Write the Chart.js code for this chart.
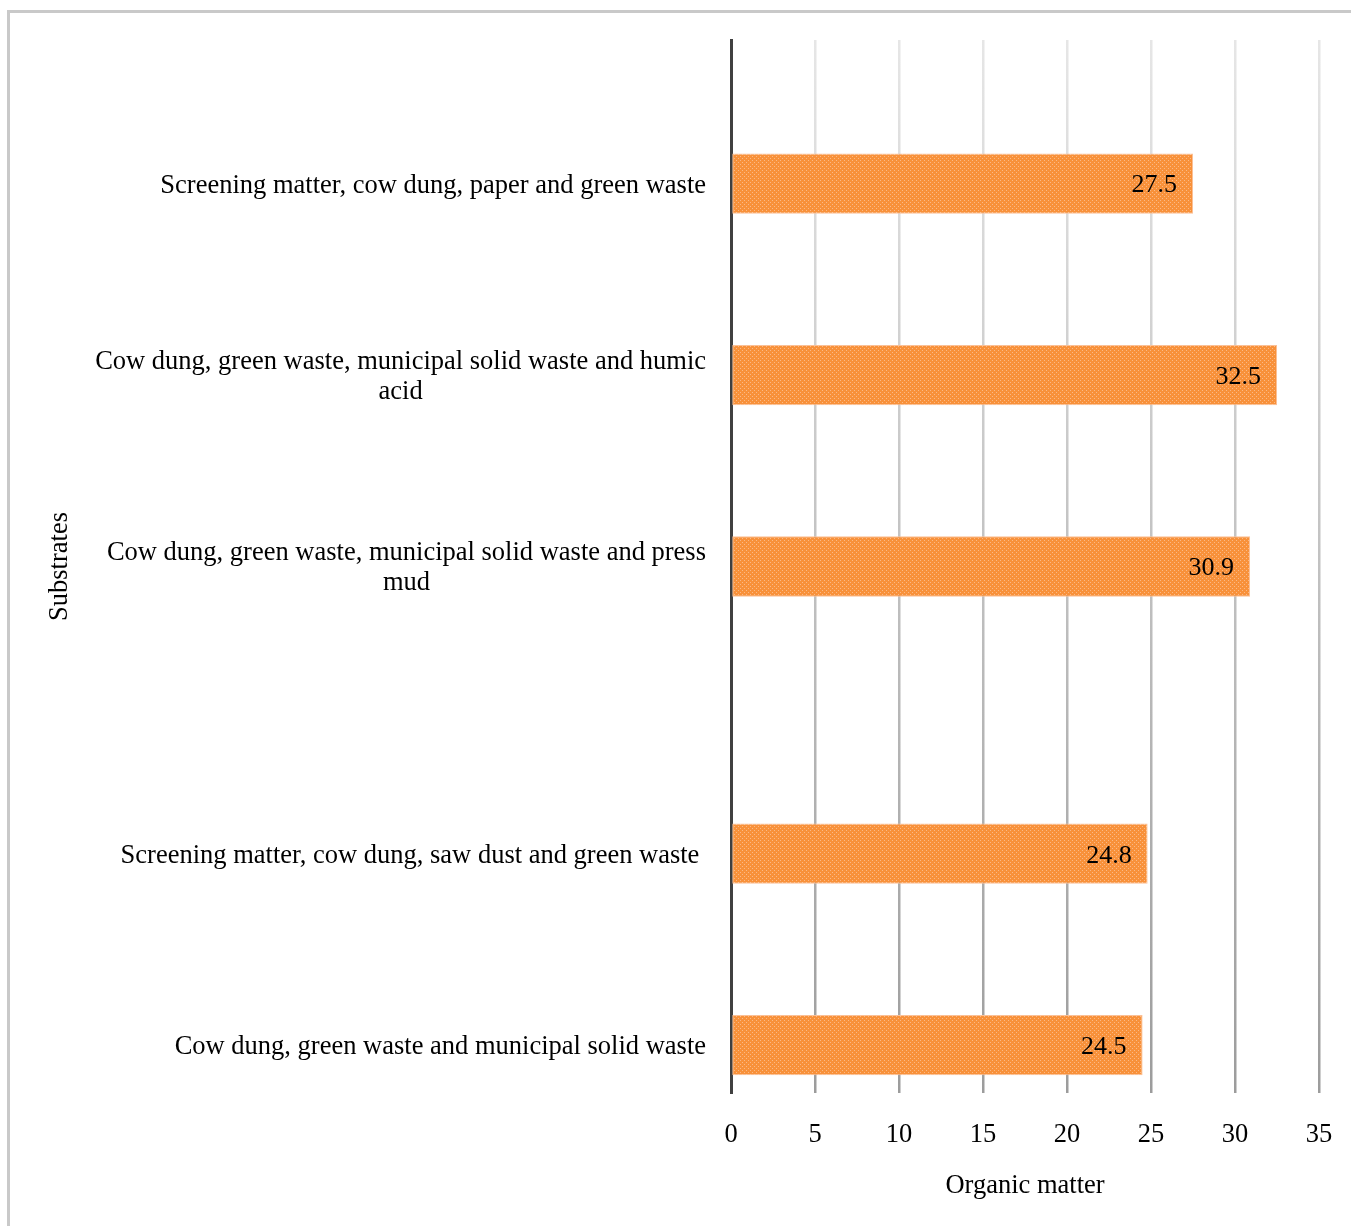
<!DOCTYPE html>
<html>
<head>
<meta charset="utf-8">
<script src="https://cdn.jsdelivr.net/npm/chart.js@4/dist/chart.umd.min.js"></script>
<style>
  html, body { margin: 0; padding: 0; background: #fff; overflow: hidden; }
  #frame { position: absolute; left: 7px; top: 10px; width: 2000px; height: 2000px;
           border-left: 3px solid #c9c9c9; border-top: 3px solid #c9c9c9; }
  #chart { position: absolute; left: 0; top: 0; }
</style>
</head>
<body>
<div id="frame"></div>
<canvas id="chart" width="1351" height="1226"></canvas>
<script>
// category slots, top to bottom (blank slots keep the spacing of the original)
const substrates = [
    '',
    'Screening matter, cow dung, paper and green waste',
    '',
    ['Cow dung, green waste, municipal solid waste and humic', 'acid'],
    '',
    ['Cow dung, green waste, municipal solid waste and press', 'mud'],
    '',
    '',
    'Screening matter, cow dung, saw dust and green waste ',
    '',
    'Cow dung, green waste and municipal solid waste'
];
const organicMatter = [null, 27.5, null, 32.5, null, 30.9, null, null, 24.8, null, 24.5];
const xTicks = [0, 5, 10, 15, 20, 25, 30, 35];

const FONT = "'Liberation Serif', 'Times New Roman', serif";
const SIZE = 26.5;

// dotted orange fill like the original
function makePattern() {
    const c = document.createElement('canvas');
    c.width = 4; c.height = 4;
    const g = c.getContext('2d');
    g.fillStyle = '#f8913a';
    g.fillRect(0, 0, 4, 4);
    g.fillStyle = '#fbb986';
    g.fillRect(0, 0, 1, 1);
    g.fillRect(2, 2, 1, 1);
    return g.createPattern(c, 'repeat');
}

const valueLabels = {
    id: 'valueLabels',
    afterDatasetsDraw(chart) {
        const ctx = chart.ctx;
        const meta = chart.getDatasetMeta(0);
        ctx.save();
        ctx.font = '26px ' + FONT;
        ctx.fillStyle = '#000';
        ctx.textAlign = 'right';
        ctx.textBaseline = 'middle';
        meta.data.forEach((bar, i) => {
            const v = organicMatter[i];
            if (v == null) return;
            ctx.fillText(v.toFixed(1), bar.x - 16, bar.y + 2);
        });
        ctx.restore();
    }
};

const categoryLabels = {
    id: 'categoryLabels',
    afterDraw(chart) {
        const ctx = chart.ctx;
        const yScale = chart.scales.y;
        const right = chart.chartArea.left - 25;
        ctx.save();
        ctx.font = SIZE + 'px ' + FONT;
        ctx.fillStyle = '#000';
        ctx.textAlign = 'center';
        ctx.textBaseline = 'middle';
        substrates.forEach((label, i) => {
            const lines = Array.isArray(label) ? label : [label];
            if (!lines[0]) return;
            const w = Math.max(...lines.map(l => ctx.measureText(l).width));
            const cx = right - w / 2;
            const y0 = yScale.getPixelForTick(i) + 2 - (lines.length - 1) * 15;
            lines.forEach((l, k) => ctx.fillText(l, cx, y0 + k * 30));
        });
        ctx.restore();
    }
};

const ctx = document.getElementById('chart').getContext('2d');
const chart = new Chart(ctx, {
    type: 'bar',
    data: {
        labels: substrates,
        datasets: [{
            label: 'Organic matter',
            data: organicMatter,
            backgroundColor: makePattern(),
            borderColor: '#fbc096',
            borderWidth: 1,
            borderSkipped: false,
            categoryPercentage: 1,
            barPercentage: 0.63
        }]
    },
    options: {
        indexAxis: 'y',
        responsive: false,
        animation: false,
        devicePixelRatio: 1,
        layout: { padding: { left: 40, right: 32, top: 40, bottom: 20 } },
        plugins: {
            legend: { display: false },
            tooltip: { enabled: false }
        },
        scales: {
            x: {
                min: 0,
                max: 35,
                afterBuildTicks: scale => { scale.ticks = xTicks.map(v => ({ value: v })); },
                afterFit: scale => {
                    scale.height = 113;
                    scale.paddingLeft = 0;
                    scale.paddingRight = 0;
                },
                ticks: {
                    color: '#000',
                    padding: 26,
                    font: { family: FONT, size: SIZE }
                },
                grid: {
                    drawTicks: false,
                    lineWidth: 2.5,
                    color: c => {
                        const a = c.chart.chartArea;
                        if (!a) return '#c8c8c8';
                        const g = c.chart.ctx.createLinearGradient(0, a.top, 0, a.bottom);
                        g.addColorStop(0, '#e6e6e6');
                        g.addColorStop(1, '#9c9c9c');
                        return g;
                    }
                },
                border: { display: false },
                title: {
                    display: true,
                    text: 'Organic matter',
                    color: '#000',
                    font: { family: FONT, size: SIZE },
                    padding: { top: 4, bottom: 4 }
                }
            },
            y: {
                afterFit: scale => { scale.width = 691; },
                ticks: { display: false },
                grid: { display: false },
                border: { display: true, color: '#404040', width: 3 },
                title: {
                    display: true,
                    text: 'Substrates',
                    color: '#000',
                    font: { family: FONT, size: SIZE },
                    padding: { top: 4, bottom: 0 }
                }
            }
        }
    },
    plugins: [valueLabels, categoryLabels]
});
</script>
</body>
</html>
